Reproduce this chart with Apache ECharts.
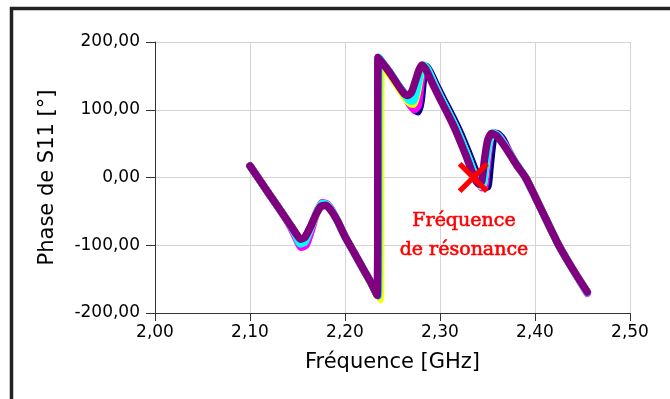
<!DOCTYPE html>
<html lang="fr">
<head>
    <meta charset="UTF-8">
    <title>Phase de S11</title>
    <script src="https://cdn.jsdelivr.net/npm/echarts@6/dist/echarts.min.js"></script>
    <style>
        html, body { margin: 0; padding: 0; background: #fff; }
        #chart { width: 670px; height: 399px; }
    </style>
</head>
<body>
<div id="chart"></div>
<script>
    // courbes de phase (GHz, degrés), une par paramètre balayé
    const navy = [
        [2.100, 17], [2.120, -24], [2.140, -65], [2.148, -82], [2.153, -91], [2.158, -88], [2.164, -72], [2.170, -53],
        [2.175, -42], [2.180, -41], [2.186, -50], [2.192, -64], [2.200, -87], [2.210, -112], [2.220, -137], [2.228, -157],
        [2.234, -174], [2.235, 177], [2.240, 168], [2.247, 155], [2.255, 138], [2.262, 125], [2.268, 114], [2.273, 100],
        [2.277, 97], [2.280, 112], [2.283, 150], [2.286, 164], [2.290, 155], [2.297, 134], [2.305, 112], [2.312, 93],
        [2.320, 70], [2.327, 47], [2.333, 26], [2.338, 8], [2.342, -5], [2.346, -14], [2.350, -14], [2.353, 20],
        [2.356, 55], [2.360, 65], [2.366, 57], [2.372, 40], [2.380, 20], [2.390, 0], [2.400, -28], [2.410, -57],
        [2.425, -100], [2.440, -136], [2.455, -169]
    ];
    const magenta = [
        [2.100, 17], [2.120, -24], [2.140, -66], [2.148, -88], [2.154, -103], [2.159, -100], [2.165, -76], [2.170, -52],
        [2.176, -37], [2.181, -39], [2.187, -50], [2.192, -64], [2.200, -87], [2.210, -112], [2.220, -137], [2.228, -157],
        [2.234, -174], [2.235, 177], [2.240, 168], [2.247, 155], [2.255, 138], [2.262, 122], [2.268, 108], [2.273, 100],
        [2.277, 106], [2.280, 140], [2.283, 163], [2.288, 157], [2.295, 136], [2.303, 112], [2.310, 93], [2.318, 70],
        [2.325, 46], [2.331, 25], [2.336, 7], [2.340, -6], [2.344, -15], [2.347, -14], [2.350, 22], [2.353, 56],
        [2.357, 66], [2.364, 58], [2.372, 40], [2.380, 20], [2.390, 0], [2.400, -28], [2.410, -57], [2.425, -100],
        [2.440, -136], [2.455, -171]
    ];
    const yellow = [
        [2.100, 17], [2.120, -24], [2.140, -65], [2.148, -84], [2.153, -96], [2.158, -93], [2.164, -74], [2.170, -53],
        [2.175, -40], [2.180, -40], [2.186, -50], [2.192, -64], [2.200, -87], [2.210, -112], [2.220, -137], [2.228, -158],
        [2.237, -180], [2.238, 170], [2.242, 160], [2.248, 150], [2.255, 135], [2.262, 120], [2.268, 110], [2.272, 108],
        [2.276, 125], [2.280, 155], [2.283, 165], [2.287, 158], [2.294, 137], [2.302, 114], [2.309, 95], [2.317, 72],
        [2.324, 49], [2.330, 28], [2.335, 9], [2.339, -5], [2.343, -13], [2.346, -8], [2.349, 26], [2.352, 54],
        [2.356, 65], [2.362, 60], [2.370, 42], [2.380, 20], [2.390, 0], [2.400, -28], [2.410, -57], [2.425, -100],
        [2.440, -136], [2.455, -169]
    ];
    const cyan = [
        [2.100, 17], [2.120, -24], [2.140, -65], [2.148, -85], [2.153, -98], [2.158, -95], [2.164, -74], [2.170, -52],
        [2.176, -38], [2.181, -40], [2.187, -51], [2.192, -64], [2.200, -87], [2.210, -112], [2.220, -137], [2.228, -157],
        [2.235, -175], [2.236, 177], [2.241, 167], [2.248, 154], [2.255, 139], [2.262, 124], [2.268, 113], [2.272, 113],
        [2.276, 132], [2.280, 158], [2.283, 166], [2.287, 160], [2.294, 138], [2.302, 115], [2.309, 96], [2.317, 73],
        [2.324, 50], [2.330, 29], [2.335, 10], [2.339, -4], [2.343, -12], [2.346, -7], [2.349, 28], [2.352, 55],
        [2.356, 66], [2.362, 61], [2.370, 43], [2.380, 21], [2.390, 0], [2.400, -28], [2.410, -57], [2.425, -100],
        [2.440, -136], [2.455, -170]
    ];
    const purple = [
        [2.100, 17], [2.120, -24], [2.140, -65], [2.148, -82], [2.153, -91], [2.158, -88], [2.164, -72], [2.170, -53],
        [2.175, -42], [2.180, -41], [2.186, -50], [2.192, -64], [2.200, -87], [2.210, -112], [2.220, -137], [2.228, -157],
        [2.234, -174], [2.235, 177], [2.240, 168], [2.247, 155], [2.255, 138], [2.262, 124], [2.266, 121], [2.270, 126],
        [2.274, 142], [2.278, 159], [2.281, 166], [2.285, 160], [2.292, 139], [2.300, 116], [2.307, 97], [2.315, 74],
        [2.322, 51], [2.328, 30], [2.333, 11], [2.337, -3], [2.341, -10], [2.344, -5], [2.347, 28], [2.350, 54],
        [2.354, 65], [2.360, 61], [2.370, 42], [2.380, 20], [2.390, 0], [2.400, -28], [2.410, -57], [2.425, -100],
        [2.440, -136], [2.455, -169]
    ];
    const curves = [
        {data: navy, color: '#000080'},
        {data: magenta, color: '#ff00ff'},
        {data: yellow, color: '#ffff00'},
        {data: cyan, color: '#00ffff'},
        {data: purple, color: '#800080'}
    ];

    // fréquence de résonance repérée par la croix
    const resonance = [[2.335, 0]];

    let chart = echarts.init(document.getElementById('chart'));

    const fmt = v => v.toFixed(2).replace('.', ',');
    const font = 'DejaVu Sans';

    let series = curves.map(c => ({
        type: 'line',
        data: c.data,
        showSymbol: false,
        symbol: 'none',
        silent: true,
        smooth: 0.2,
        lineStyle: {color: c.color, width: 7.5, cap: 'round', join: 'round'},
        itemStyle: {color: c.color}
    }));

    series.push({
        type: 'scatter',
        data: resonance,
        symbol: 'path://M0,12 L12,0 L50,38 L88,0 L100,12 L62,50 L100,88 L88,100 L50,62 L12,100 L0,88 L38,50 Z',
        symbolSize: 31,
        itemStyle: {color: '#ff0000', opacity: 1},
        z: 10
    });

    let option = {
        animation: false,
        grid: {left: 155, right: 40, top: 42, bottom: 86},
        xAxis: {
            type: 'value',
            min: 2.0,
            max: 2.5,
            interval: 0.1,
            name: 'Fréquence [GHz]',
            nameLocation: 'middle',
            nameGap: 39,
            nameTextStyle: {fontFamily: font, fontSize: 21, color: '#000'},
            axisLine: {onZero: false, lineStyle: {color: '#333', width: 1}},
            axisTick: {show: true, length: 8, lineStyle: {color: '#333'}},
            axisLabel: {formatter: fmt, fontFamily: font, fontSize: 17, color: '#000', margin: 11},
            splitLine: {show: true, lineStyle: {color: '#d4d4d4', width: 1}}
        },
        yAxis: {
            type: 'value',
            min: -200,
            max: 200,
            interval: 100,
            name: 'Phase de S11 [°]',
            nameLocation: 'middle',
            nameGap: 97,
            nameRotate: 90,
            nameTextStyle: {fontFamily: font, fontSize: 21, color: '#000'},
            axisLine: {show: true, lineStyle: {color: '#333', width: 1}},
            axisTick: {show: true, length: 9, lineStyle: {color: '#333'}},
            axisLabel: {formatter: fmt, fontFamily: font, fontSize: 17, color: '#000', margin: 15},
            splitLine: {show: true, lineStyle: {color: '#d4d4d4', width: 1}}
        },
        graphic: [
            {
                type: 'rect',
                shape: {x: 11.5, y: 8.5, width: 720, height: 460},
                style: {fill: 'none', stroke: '#222', lineWidth: 3.5},
                silent: true
            },
            {
                type: 'text',
                x: 464,
                y: 207,
                style: {
                    text: 'Fréquence\nde résonance',
                    font: '19px "DejaVu Serif"',
                    fill: '#ff0000',
                    stroke: '#ff0000',
                    lineWidth: 0.6,
                    align: 'center',
                    verticalAlign: 'top',
                    lineHeight: 29
                },
                z: 20
            }
        ],
        series
    };

    chart.setOption(option);
</script>
</body>
</html>
